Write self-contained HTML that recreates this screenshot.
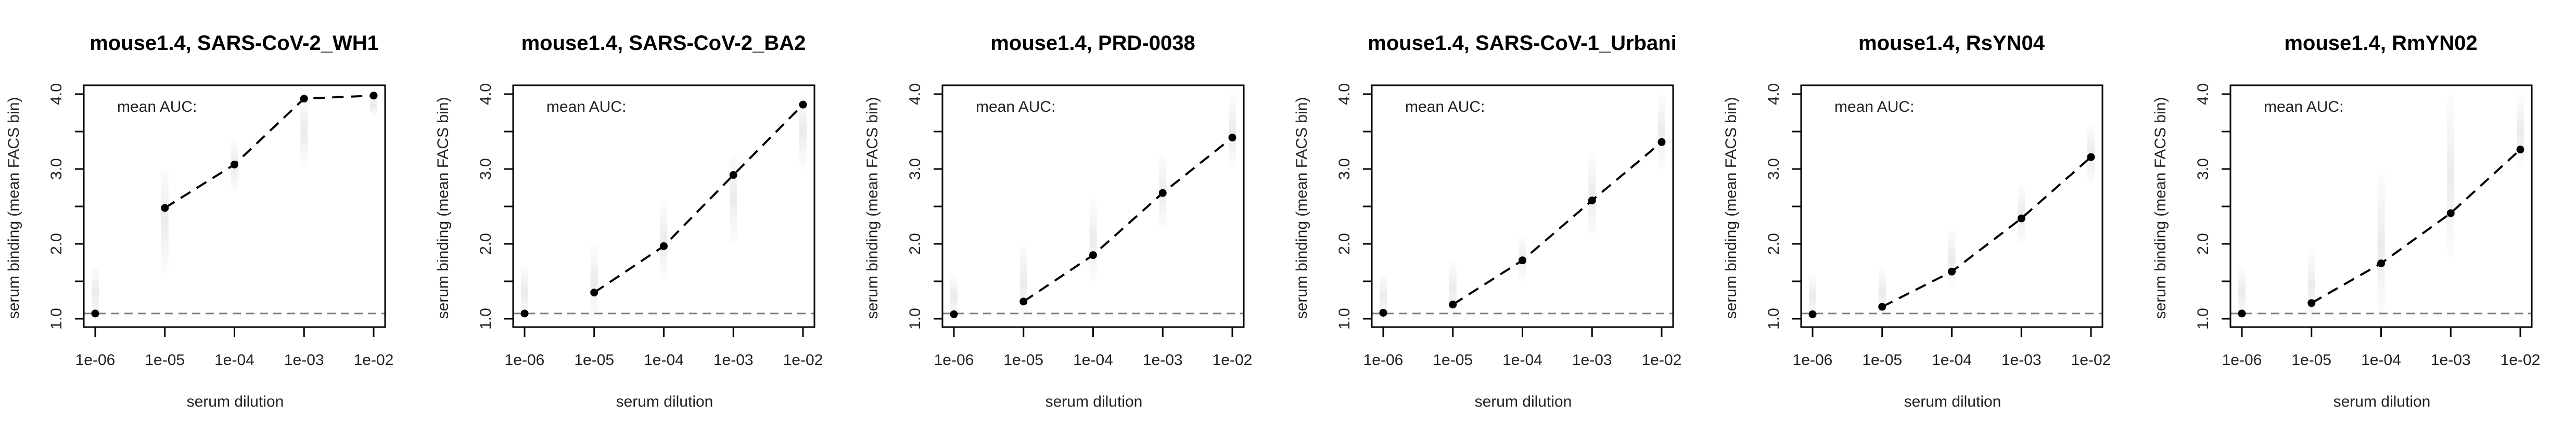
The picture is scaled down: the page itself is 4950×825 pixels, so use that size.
<!DOCTYPE html>
<html><head><meta charset="utf-8"><style>
html,body{margin:0;padding:0;background:#fff;}
svg{display:block;}
text{font-family:"Liberation Sans",sans-serif;}
</style></head><body>
<svg id="chart" width="4950" height="825" xmlns="http://www.w3.org/2000/svg"></svg>
<script>
const titles = ["mouse1.4, SARS-CoV-2_WH1","mouse1.4, SARS-CoV-2_BA2","mouse1.4, PRD-0038","mouse1.4, SARS-CoV-1_Urbani","mouse1.4, RsYN04","mouse1.4, RmYN02"];
const dilutions = ["1e-06","1e-05","1e-04","1e-03","1e-02"];
const meanWH1 = [1.07,2.48,3.06,3.94,3.98];
const meanBA2 = [1.07,1.35,1.97,2.92,3.86];
const meanPRD = [1.06,1.23,1.85,2.68,3.42];
const meanUrbani = [1.08,1.19,1.78,2.58,3.36];
const meanRsYN04 = [1.06,1.16,1.63,2.34,3.16];
const meanRmYN02 = [1.07,1.21,1.74,2.41,3.26];
const series = [meanWH1,meanBA2,meanPRD,meanUrbani,meanRsYN04,meanRmYN02];
const spreadLow = [[1.0,1.6,2.7,3.0,3.7],[1.0,1.0,1.5,2.0,3.0],[1.0,1.0,1.5,2.2,3.0],[1.0,1.0,1.5,2.1,3.0],[1.0,1.0,1.4,2.0,2.8],[1.0,1.0,1.0,1.8,3.0]];
const spreadHigh = [[1.7,3.0,3.4,4.0,4.0],[1.7,2.0,2.6,3.2,4.0],[1.6,2.0,2.6,3.2,4.0],[1.6,1.8,2.1,3.2,4.0],[1.6,1.7,2.2,2.8,3.6],[1.7,1.9,3.0,4.0,4.0]];
const yTicks = [1.0,1.5,2.0,2.5,3.0,3.5,4.0];
const yLabels = ["1.0","2.0","3.0","4.0"];
const baseline = 1.07;

const NS="http://www.w3.org/2000/svg";
const svg=document.getElementById('chart');
function mk(tag,attrs,parent){const e=document.createElementNS(NS,tag);for(const k in attrs)e.setAttribute(k,attrs[k]);(parent||svg).appendChild(e);return e;}
const boxL=161,boxR=740,boxT=164,boxB=629,x0=183,x1=718,yA=613,yB=181;
function sx(i){return x0+(x1-x0)*i/(dilutions.length-1);}
function sy(v){return yA+(yB-yA)*(v-1)/3;}
const defs=mk('defs',{});
const gr=mk('linearGradient',{id:'smear',x1:0,y1:0,x2:0,y2:1},defs);
mk('stop',{offset:'0','stop-color':'#ccc','stop-opacity':'0.05'},gr);
mk('stop',{offset:'0.5','stop-color':'#bbb','stop-opacity':'0.3'},gr);
mk('stop',{offset:'1','stop-color':'#ccc','stop-opacity':'0.05'},gr);

titles.forEach((t,p)=>{
  const g=mk('g',{transform:`translate(${p*825},0)`});
  
  
  const tt=mk('text',{x:450,y:96,'font-size':40,'font-weight':'bold','text-anchor':'middle',fill:'#000'},g);tt.textContent=t;
  
  
  series[p].forEach((v,i)=>{
    const r=mk('rect',{x:sx(i)-7,y:sy(spreadHigh[p][i]),width:14,height:sy(spreadLow[p][i])-sy(spreadHigh[p][i]),rx:7,fill:'url(#smear)'},g);
    
    
  });
  const bl=mk('line',{x1:boxL,x2:boxR,y1:sy(baseline),y2:sy(baseline),stroke:'#808080','stroke-width':3,'stroke-dasharray':'16,10'},g);
  
  
  const pts=series[p].slice(1).map((v,i)=>sx(i+1)+','+sy(v)).join(' ');
  const pl=mk('polyline',{points:pts,fill:'none',stroke:'#000','stroke-width':4,'stroke-dasharray':'22,14'},g);
  
  
  series[p].forEach((v,i)=>{
    const c=mk('circle',{cx:sx(i),cy:sy(v),r:7.5,fill:'#000'},g);
    
    
  });
  const box=mk('rect',{x:boxL,y:boxT,width:boxR-boxL,height:boxB-boxT,fill:'none',stroke:'#000','stroke-width':3},g);
  
  
  yTicks.forEach(v=>{mk('line',{x1:boxL-17,x2:boxL,y1:sy(v),y2:sy(v),stroke:'#000','stroke-width':3},g);});
  yLabels.forEach(l=>{
    const y=sy(parseFloat(l));
    const tx=mk('text',{x:0,y:0,'font-size':30,'text-anchor':'middle',fill:'#222',transform:`translate(118,${y}) rotate(-90)`},g);tx.textContent=l;
    
    
  });
  dilutions.forEach((d,i)=>{
    mk('line',{x1:sx(i),x2:sx(i),y1:boxB,y2:boxB+19,stroke:'#000','stroke-width':3},g);
    const tx=mk('text',{x:sx(i),y:702,'font-size':30,'text-anchor':'middle',fill:'#222'},g);tx.textContent=d;
    
    
  });
  const xl=mk('text',{x:452,y:782,'font-size':30,'text-anchor':'middle',fill:'#222'},g);xl.textContent='serum dilution';
  
  
  const yl=mk('text',{x:0,y:0,'font-size':30,'text-anchor':'middle',fill:'#222',transform:`translate(36,400) rotate(-90)`},g);yl.textContent='serum binding (mean FACS bin)';
  
  
  const auc=mk('text',{x:225,y:215,'font-size':30,fill:'#222'},g);auc.textContent='mean AUC:';
  
  
});
</script>
</body></html>
